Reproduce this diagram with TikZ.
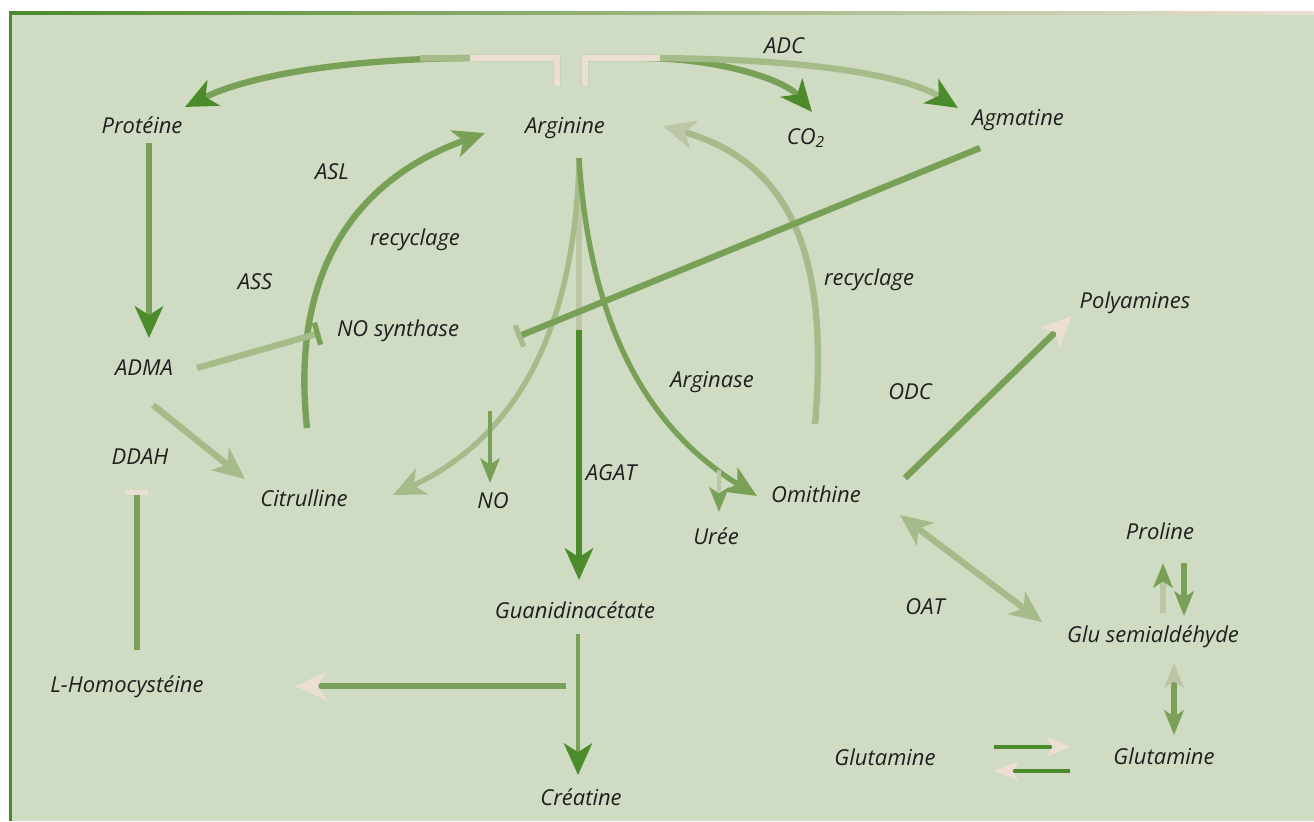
\documentclass[tikz,border=0pt]{standalone}
\usepackage{fontspec}
\setmainfont{Open Sans}
\usetikzlibrary{arrows.meta}

\definecolor{panelbg}{HTML}{CFDBC2}
\definecolor{leafdark}{HTML}{4C8B2B}
\definecolor{leafmid}{HTML}{78A157}
\definecolor{leafpale}{HTML}{A6BB8A}
\definecolor{sage}{HTML}{BCC6A4}
\definecolor{sandy}{HTML}{EADFD2}
\definecolor{inkdark}{HTML}{1F1F1F}

\tikzset{
  chem/.style={font=\fontsize{12.5}{14}\selectfont\itshape,text=inkdark,inner sep=1pt},
  pathway/.style={line width=3.6pt,draw=#1},
  slim/.style={line width=2.4pt,draw=#1},
  headbig/.style={-{Stealth[length=18pt,width=16pt,inset=5pt,color=#1]}},
  headsmall/.style={-{Stealth[length=14pt,width=11pt,inset=3.5pt,color=#1]}},
  blocked/.style={-{Bar[width=13pt,line width=3pt,color=#1]}},
}

\begin{document}
\begin{tikzpicture}[x={(0.02cm,0)},y={(0,-0.02cm)}]
\useasboundingbox (0,0) rectangle (1314,821);
\fill[white] (0,0) rectangle (1314,821);
\fill[panelbg] (10,14) rectangle (1314,821);
\shade[left color=leafdark,right color=sandy] (9,12) rectangle (1314,15);
\fill[leafdark] (9,12) rectangle (12,821);

% metabolites and enzymes
\node[chem] (prot) at (142,125) {Protéine};
\node[chem] (argi) at (565,128) {Arginine};
\node[chem] (co2) at (806,138) {CO\textsubscript{2}};
\node[chem] (agma) at (1018,120) {Agmatine};
\node[chem] (adc) at (784,46) {ADC};
\node[chem] (asl) at (332,172) {ASL};
\node[chem] (recl) at (415,240) {recyclage};
\node[chem] (ass) at (255,282) {ASS};
\node[chem] (nos) at (398,331) {NO synthase};
\node[chem] (adma) at (144,368) {ADMA};
\node[chem] (recr) at (869,280) {recyclage};
\node[chem] (poly) at (1135,303) {Polyamines};
\node[chem] (argase) at (712,382) {Arginase};
\node[chem] (odc) at (910,392) {ODC};
\node[chem] (ddah) at (140,457) {DDAH};
\node[chem] (citr) at (304,498) {Citrulline};
\node[chem] (no) at (493,501) {NO};
\node[chem] (agat) at (611,473) {AGAT};
\node[chem] (orni) at (816,494) {Omithine};
\node[chem] (uree) at (716,536) {Urée};
\node[chem] (prol) at (1160,531) {Proline};
\node[chem] (oat) at (925,607) {OAT};
\node[chem] (glusa) at (1153,637) {Glu semialdéhyde};
\node[chem] (guan) at (575,610) {Guanidinacétate};
\node[chem] (homo) at (127,687) {L-Homocystéine};
\node[chem] (glnl) at (885,757) {Glutamine};
\node[chem] (glnr) at (1164,756) {Glutamine};
\node[chem] (crea) at (581,797) {Créatine};

% free ends of the connectors
\coordinate (brkL) at (557,86);
\coordinate (brkR) at (585,86);
\coordinate (argout) at (579,158);
\coordinate (protin) at (185,107);
\coordinate (co2in) at (812,112);
\coordinate (agmin) at (958,108);
\coordinate (argin) at (485,133);
\coordinate (argback) at (663,126);
\coordinate (citout) at (307,428);
\coordinate (ornout) at (815,424);
\coordinate (nobranch) at (490,411);

% Arginine -> Proteine, CO2, Agmatine
\draw[pathway=leafmid,headbig=leafdark] (brkL) -- (557,58) -- (480,58) .. controls (350,58) and (250,75) .. (protin);
\draw[pathway=leafpale] (480,58) -- (420,58.4);
\draw[pathway=sandy] (brkL) -- (557,58) -- (470,58.1);
\draw[pathway=leafmid,headbig=leafdark] (brkR) -- (585,58) -- (640,58) .. controls (720,58) and (785,80) .. (co2in);
\draw[pathway=leafpale,headbig=leafdark] (640,58) .. controls (820,58) and (910,78) .. (agmin);
\draw[pathway=sandy] (brkR) -- (585,58) -- (660,58);

% recycling loops
\draw[pathway=leafmid,headbig=leafmid] (citout) .. controls (292,290) and (340,185) .. (argin);
\draw[pathway=leafpale,headbig=sage] (ornout) .. controls (828,270) and (800,165) .. (argback);

% Arginine splits
\draw[pathway=leafdark,line width=3pt,headbig=leafdark] (argout) -- (579,580);
\draw[line width=3pt,sage] (argout) -- (579,330);
\draw[pathway=leafpale,line width=3pt,headbig=leafpale] (argout) .. controls (575,340) and (510,440) .. (393,495);
\draw[pathway=leafmid,line width=3pt,headbig=leafmid] (argout) .. controls (590,330) and (650,430) .. (757,496);
\draw[slim=leafmid,headsmall=leafmid] (nobranch) -- (490,483);
\draw[slim=sage,headsmall=leafmid] (719,470) -- (719,512);

% inhibitions
\draw[pathway=leafmid,blocked=leafpale] (980,148) -- (517,337);
\draw[pathway=leafpale,blocked=leafmid] (197,368) -- (320,333);
\draw[pathway=leafmid,blocked=sandy] (137,650) -- (137,490);

% left side
\draw[pathway=leafmid,headbig=leafdark] (149,143) -- (149,338);
\draw[pathway=leafpale,headbig=leafpale] (153,405) -- (245,479);

% Guanidinacetate
\draw[slim=leafmid,headbig=leafdark] (578,634) -- (578,775);
\draw[pathway=leafmid,line width=3pt,headbig=sandy] (566,686) -- (295,686);

% Omithine side
\draw[pathway=leafmid,headbig=sandy] (905,478) -- (1072,316);
\draw[pathway=leafpale,{Stealth[length=18pt,width=16pt,inset=5pt,color=leafpale]}-{Stealth[length=18pt,width=16pt,inset=5pt,color=leafpale]}] (900,515) -- (1042,622);
\draw[pathway=sage,headsmall=leafmid] (1163,613) -- (1163,563);
\draw[pathway=leafmid,headsmall=leafmid] (1184,563) -- (1184,616);
\draw[pathway=leafmid,{Stealth[length=14pt,width=11pt,inset=3.5pt,color=sage]}-{Stealth[length=14pt,width=11pt,inset=3.5pt,color=leafmid]}] (1174,663) -- (1174,735);
\draw[slim=leafdark,headsmall=sandy] (994,747) -- (1071,747);
\draw[slim=leafdark,headsmall=sandy] (1070,771) -- (994,771);
\end{tikzpicture}
\end{document}
